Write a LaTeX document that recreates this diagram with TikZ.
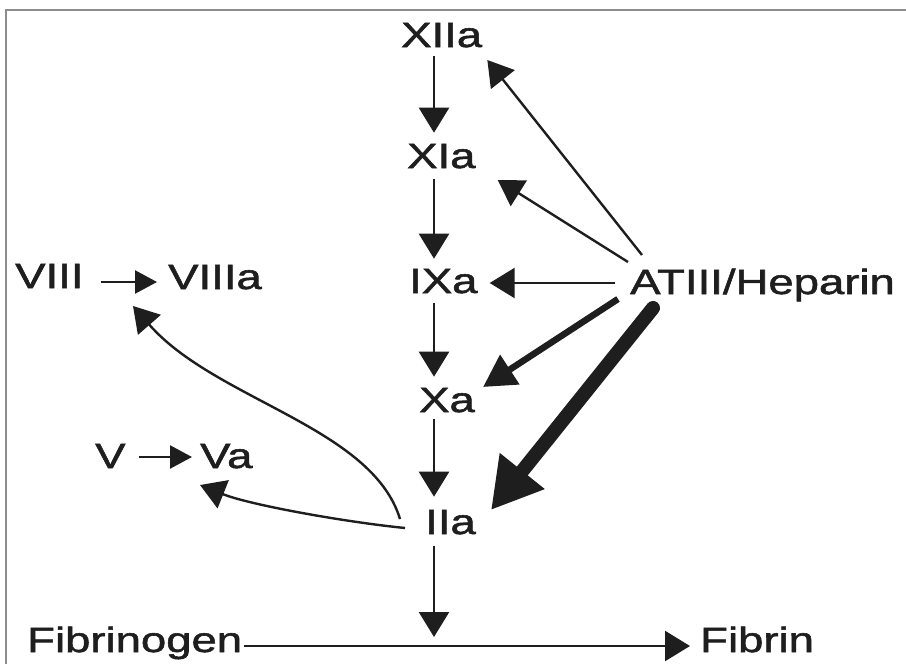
\documentclass[tikz,border=0pt]{standalone}
\usepackage{fontspec}
\setmainfont{Liberation Sans}[FakeStretch=1.3,FakeBold=1.6]
\usetikzlibrary{arrows.meta,calc}
\definecolor{ink}{HTML}{1E1E1E}
\definecolor{rule}{HTML}{8C8C8C}

\begin{document}
\begin{tikzpicture}[x=1pt,y=-1pt,
  lab/.style={anchor=base west, inner sep=0pt, text=ink,
              font=\fontsize{35}{40}\selectfont},
  conn/.style={draw=ink, line width=2.4pt,
               -{Triangle[length=25pt,width=30pt]}},
  smallconn/.style={draw=ink, line width=2.4pt,
               -{Triangle[length=22pt,width=23pt]}},
  medconn/.style={draw=ink, line width=6.5pt,
               -{Triangle[length=32pt,width=34pt]}},
  bigconn/.style={draw=ink, line width=14pt, line cap=round,
               -{Triangle[length=50pt,width=54pt]}}]

\useasboundingbox (0,0) rectangle (906,664);

% frame along the top and left edges
\draw[rule, line width=2pt] (6,664) -- (6,10) -- (906,10);

% factors
\node[lab] (xiia)  at (401,47)  {XIIa};
\node[lab] (xia)   at (407,168) {XIa};
\node[lab] (ixa)   at (409,293) {IXa};
\node[lab] (xa)    at (419,412) {Xa};
\node[lab] (iia)   at (425,534) {IIa};
\node[lab] (viii)  at (15,288)  {VIII};
\node[lab] (viiia) at (168,289) {VIIIa};
\node[lab] (v)     at (95,468)  {V};
\node[lab] (va)    at (200,468) {Va};
\node[lab] (at)    at (630,294) {ATIII/Heparin};
\node[lab] (fgen)  at (27,652)  {Fibrinogen};
\node[lab] (fin)   at (700,652) {Fibrin};

\coordinate (col) at (434,0);
\coordinate (react) at (434,637);

% cascade
\draw[conn] ([yshift=-8pt]xiia.south -| col) -- ([yshift=11pt]xia.north -| col);
\draw[conn] ([yshift=-10pt]xia.south -| col) -- ([yshift=10pt]ixa.north -| col);
\draw[conn] ([yshift=-9pt]ixa.south -| col) -- ([yshift=11pt]xa.north -| col);
\draw[conn] ([yshift=-6pt]xa.south -| col) -- ([yshift=13pt]iia.north -| col);
\draw[conn] ([yshift=-11pt]iia.south -| col) -- (react);

% fibrin formation
\draw[conn] ($(fgen.base east)+(2,-6)$) -- ($(fin.base west)+(-10,-6)$);

% cofactor activation
\draw[smallconn] ($(viii.base east)+(17,-6)$) -- ($(viiia.base west)+(-11,-7)$);
\draw[smallconn] ($(v.base east)+(13,-11)$) -- ($(va.base west)+(-8,-11)$);

% thrombin feedback
\draw[conn] ($(iia.base west)+(-25,-15)$)
  .. controls +(-28,-92) and +(82,94) .. ($(viiia.base west)+(-35,17)$);
\draw[conn] ($(iia.base west)+(-20,-6)$)
  .. controls +(-60,-6) and +(50,20) .. ($(va.base west)+(0,17)$);

% inhibition by ATIII/heparin
\draw[conn] ($(at.base west)+(12,-39)$) -- ($(xiia.base east)+(5,13)$);
\draw[conn] ($(at.base west)+(-2,-32)$) -- ($(xia.base east)+(22,12)$);
\draw[conn] ($(at.base west)+(-15,-11)$) -- ($(ixa.base east)+(12,-10)$);
\draw[medconn] ($(at.base west)+(-12,5)$) -- ($(xa.base east)+(8,-25)$);
\draw[bigconn] ($(at.base west)+(23,14)$) -- ($(iia.base east)+(15,-24)$);

\end{tikzpicture}
\end{document}
